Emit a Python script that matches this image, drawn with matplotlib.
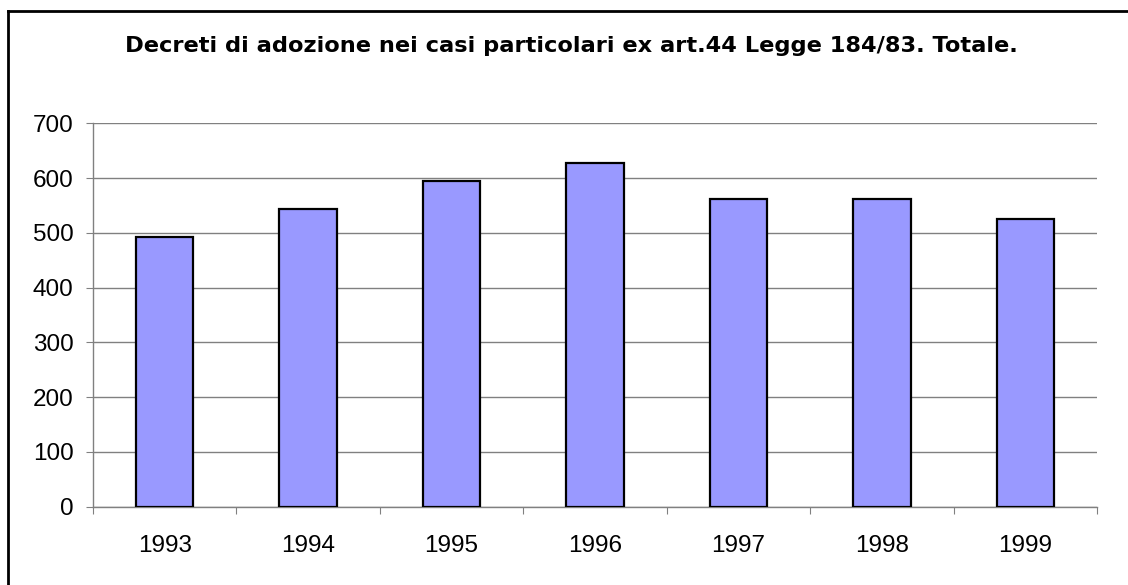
import matplotlib
matplotlib.use('Agg')
from matplotlib import pyplot as plt
from matplotlib.lines import Line2D

years = ['1993', '1994', '1995', '1996', '1997', '1998', '1999']
totals = [492, 544, 595, 628, 562, 562, 525]

plt.rcParams['font.family'] = ['Liberation Sans', 'DejaVu Sans']

W, H = 1128, 585
fig = plt.figure(figsize=(W / 100, H / 100), dpi=100)
ax = fig.add_axes([93 / W, 1 - 506.5 / H, (1097 - 93) / W, (506.5 - 123.3) / H])

x = range(len(years))
ax.bar(x, totals, width=0.4, color='#9999ff', edgecolor='black', linewidth=1.6, zorder=3)

ax.set_xlim(-0.5, len(years) - 0.5)
ax.set_ylim(0, 700)
ax.set_yticks(range(0, 701, 100))
ax.set_xticks([i + 0.5 for i in range(-1, len(years))])
ax.set_xticklabels([])
ax.set_xticks(list(x), minor=True)
ax.set_xticklabels(years, minor=True)
ax.tick_params(axis='x', which='minor', length=0, pad=20.5, labelsize=17.5)
ax.tick_params(axis='x', which='major', length=5, color='#808080', direction='out')
ax.tick_params(axis='y', length=5, color='#808080', labelsize=17.5, pad=9)

ax.grid(axis='y', color='#808080', linewidth=1.0, zorder=0)
for side in ['top', 'right']:
    ax.spines[side].set_visible(False)
for side in ['left', 'bottom']:
    ax.spines[side].set_color('#808080')
    ax.spines[side].set_linewidth(1.0)

fig.text(571.5 / W, 1 - 52 / H, 'Decreti di adozione nei casi particolari ex art.44 Legge 184/83. Totale.',
         ha='center', va='baseline', fontsize=16.2, fontweight='bold', family='DejaVu Sans')

# outer chart frame (only top and left edges visible in the crop)
fig.add_artist(Line2D([8 / W, 8 / W], [0, 1 - 11 / H], color='black', linewidth=2, transform=fig.transFigure))
fig.add_artist(Line2D([8 / W, 1], [1 - 11 / H, 1 - 11 / H], color='black', linewidth=2, transform=fig.transFigure))

fig.savefig('out.png', dpi=100)
